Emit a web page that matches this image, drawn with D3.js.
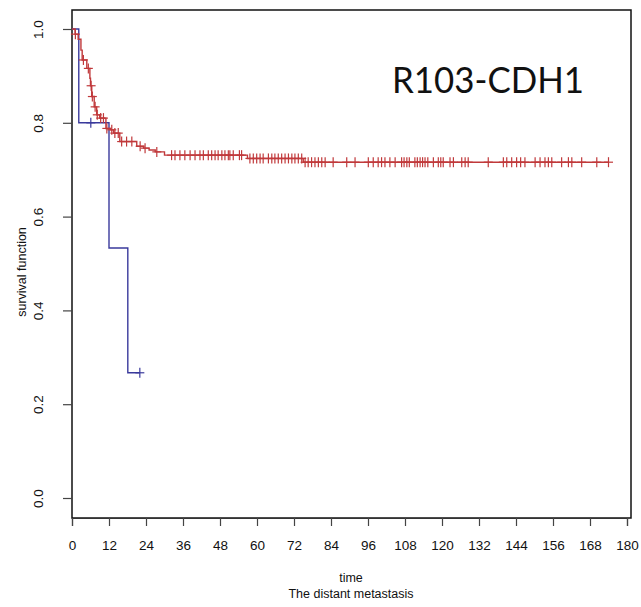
<!DOCTYPE html>
<html>
<head>
<meta charset="utf-8">
<script src="https://cdn.jsdelivr.net/npm/d3@7"></script>
<style>
  body { margin: 0; background: #fff; }
  svg { display: block; }
</style>
</head>
<body>
<div id="chart"></div>
<script>
// x axis tick labels (months) and y ticks
var xTicks = [0, 12, 24, 36, 48, 60, 72, 84, 96, 108, 120, 132, 144, 156, 168, 180];
var yTicks = [0.0, 0.2, 0.4, 0.6, 0.8, 1.0];

// blue group: step times and survival after each step
var blueTimes = [0, 2.2, 12.0, 18.1];
var blueSurv = [1.0, 0.8, 0.533, 0.267];
var blueCensor = [6.1, 22.0];

// red group
var redTimes = [0, 1.0, 2.0, 2.9, 3.3, 4.8, 5.8, 6.0, 6.4, 7.2, 8.0, 9.0, 11.0, 12.5, 13.5, 15.5, 21.0, 23.2, 25.0, 27.0, 30.0, 56.9, 75.0];
var redSurv = [1.0, 0.989, 0.978, 0.955, 0.934, 0.916, 0.895, 0.879, 0.856, 0.834, 0.817, 0.81, 0.788, 0.785, 0.778, 0.76, 0.75, 0.746, 0.742, 0.738, 0.731, 0.724, 0.716];
var redCensor = [1.1, 3.7, 5.3, 6.2, 6.6, 7.5, 8.2, 9.3, 10.2, 11.3, 12.9, 13.9, 15.0, 16.1, 17.7, 19.4, 22.1, 23.7, 27.5,
  32.3, 33.4, 35.0, 36.6, 38.3, 39.9, 41.5, 42.6, 44.2, 45.3, 46.4, 47.4, 48.6, 49.6, 50.7, 51.2, 52.3, 54.3, 55.0,
  57.7, 58.8, 59.9, 61.0, 62.0, 63.7, 64.8, 65.8, 66.9, 68.0, 69.1, 70.2, 71.3, 72.3, 73.4, 74.5,
  75.6, 76.6, 77.7, 78.8, 79.9, 81.0, 82.1, 84.7, 89.1, 91.8, 96.1, 97.7, 99.3, 100.4, 101.5, 103.1, 104.8,
  106.9, 107.7, 108.6, 109.4, 111.2, 112.0, 112.9, 113.7, 114.5, 115.4, 117.2, 118.8, 119.6, 120.4, 122.6,
  123.7, 126.4, 127.5, 128.5, 135.0, 139.9, 141.0, 142.6, 144.2, 145.5, 146.9, 150.2, 151.8, 153.4, 154.5,
  155.6, 158.8, 161.0, 162.1, 165.3, 170.2, 174.0];

var width = 641, height = 607;
var svg = d3.select("#chart").append("svg").attr("width", width).attr("height", height);

// plot box: left 72, right 631, top 10, bottom 518
var x = d3.scaleLinear().domain([0, 180]).range([72, 627]);
var y = d3.scaleLinear().domain([0, 1]).range([498, 29]);
var boxL = 72, boxR = 631, boxT = 10, boxB = 518;

svg.append("rect").attr("x", boxL).attr("y", boxT)
  .attr("width", boxR - boxL).attr("height", boxB - boxT)
  .attr("fill", "none").attr("stroke", "#111").attr("stroke-width", 1.5);

// x axis
var xAxis = svg.append("g").attr("transform", "translate(0," + boxB + ")")
  .call(d3.axisBottom(x).tickValues(xTicks).tickSize(8).tickPadding(14).tickFormat(d3.format("d")));
xAxis.select(".domain").attr("stroke", "#333").attr("stroke-width", 1.2);
xAxis.selectAll(".tick line").attr("stroke", "#444").attr("stroke-width", 1.2);
xAxis.selectAll("text").attr("font-family", "Liberation Sans, Arial, sans-serif")
  .attr("font-size", 13.5).attr("fill", "#111");

// y axis
var yAxis = svg.append("g").attr("transform", "translate(" + boxL + ",0)")
  .call(d3.axisLeft(y).tickValues(yTicks).tickSize(9).tickFormat(d3.format(".1f")));
yAxis.select(".domain").remove();
yAxis.selectAll(".tick line").attr("stroke", "#444").attr("stroke-width", 1.2);
yAxis.selectAll("text")
  .attr("font-family", "Liberation Sans, Arial, sans-serif").attr("font-size", 13.5).attr("fill", "#111")
  .attr("x", null).attr("dy", null)
  .attr("transform", "translate(-29,0) rotate(-90)")
  .attr("text-anchor", "middle");

// axis titles
svg.append("text").attr("transform", "translate(26," + ((boxT + boxB) / 2 + 8) + ") rotate(-90)")
  .attr("text-anchor", "middle").attr("font-family", "Liberation Sans, Arial, sans-serif")
  .attr("font-size", 12.5).attr("fill", "#111").text("survival function");
svg.append("text").attr("x", 351).attr("y", 582).attr("text-anchor", "middle")
  .attr("font-family", "Liberation Sans, Arial, sans-serif").attr("font-size", 12.5).attr("fill", "#111").text("time");
svg.append("text").attr("x", 351).attr("y", 598).attr("text-anchor", "middle")
  .attr("font-family", "Liberation Sans, Arial, sans-serif").attr("font-size", 12.5).attr("fill", "#111")
  .text("The distant metastasis");

// chart title
svg.append("text").attr("x", 392).attr("y", 93)
  .attr("font-family", "Lato, 'Open Sans', sans-serif").attr("font-size", 37).attr("fill", "#111")
  .attr("textLength", 192).attr("lengthAdjust", "spacingAndGlyphs")
  .text("R103-CDH1");

function survAt(times, surv, t) {
  var i = d3.bisectRight(times, t) - 1;
  return surv[Math.max(0, i)];
}

function drawCurve(times, surv, censor, color) {
  var pts = times.map(function(t, i) { return [t, surv[i]]; });
  var last = d3.max(censor);
  if (last > times[times.length - 1]) pts.push([last, surv[surv.length - 1]]);
  var line = d3.line().x(function(d) { return x(d[0]); }).y(function(d) { return y(d[1]); })
    .curve(d3.curveStepAfter);
  svg.append("path").datum(pts).attr("d", line)
    .attr("fill", "none").attr("stroke", color).attr("stroke-width", 1.4);
  var g = svg.append("g").attr("stroke", color).attr("stroke-width", 1.2);
  censor.forEach(function(t) {
    var cx = x(t), cy = y(survAt(times, surv, t));
    g.append("line").attr("x1", cx - 4.5).attr("x2", cx + 4.5).attr("y1", cy).attr("y2", cy);
    g.append("line").attr("x1", cx).attr("x2", cx).attr("y1", cy - 5).attr("y2", cy + 5);
  });
}

drawCurve(blueTimes, blueSurv, blueCensor, "#3a3a9c");
drawCurve(redTimes, redSurv, redCensor, "#c0393b");
</script>
</body>
</html>
